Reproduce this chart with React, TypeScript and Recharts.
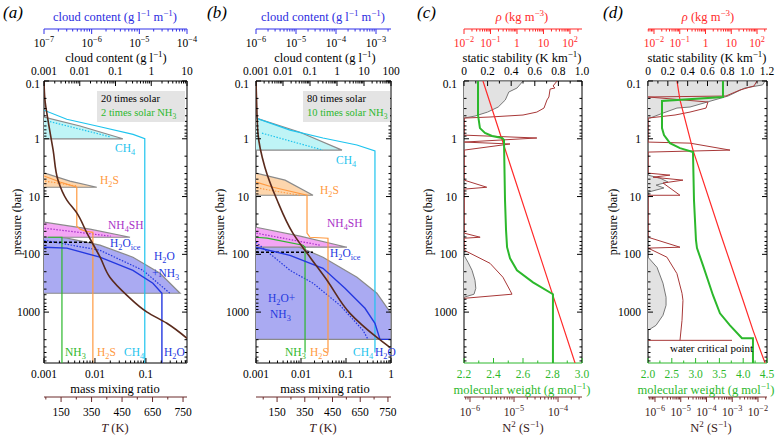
import React from 'react';
import { ScatterChart, Scatter, XAxis, YAxis } from 'recharts';

type Pt = [number, number]; // [axis value, pressure (bar)]

const FONT = '"Liberation Serif", "DejaVu Serif", serif';
const H = 436;

const CYAN = '#1ec4ee';
const ORANGE = '#ff9a40';
const PURPLE = '#a830c8';
const BLUE = '#2438e0';
const GREEN = '#2cb82c';
const BROWN = '#5a2a1c';
const RED = '#ff2a2a';
const N2C = '#a83838';
const GRAY = '#8a8a8a';

// ---------- shared pressure axis ----------
const pressureDomain: [number, number] = [0.1, 7600];
const pressureMajors = [0.1, 1, 10, 100, 1000];
const pressureLabels = ['0.1', '1', '10', '100', '1000'];

// ---------- panel (a): 20 times solar ----------
const aCloudTicks = [0.001, 0.01, 0.1, 1, 10];
const aCloudLabels = ['0.001', '0.01', '0.1', '1', '10'];
const aColumnTicks = [1e-7, 1e-6, 1e-5, 1e-4];
const aColumnLabels = ['10^{−7}', '10^{−6}', '10^{−5}', '10^{−4}'];
const aMixTicks = [0.001, 0.01, 0.1];
const aMixLabels = ['0.001', '0.01', '0.1'];

const aCh4Cloud: Pt[] = [[0.001, 0.42], [0.0102, 0.6], [0.16, 1.0], [0.001, 1.0]];
const aH2sCloud: Pt[] = [[0.001, 3.9], [0.0053, 5.4], [0.03, 6.9], [0.001, 6.9]];
const aNh4shCloud: Pt[] = [[0.001, 27.8], [0.0194, 36.7], [0.255, 50.6], [0.001, 50.6]];
const aH2oCloud: Pt[] = [[0.001, 46.7], [0.0044, 52.6], [0.0368, 69.5], [0.308, 112], [1.76, 213], [6.4, 472], [0.001, 472]];
const aIceLine: Pt[] = [[0.001, 61.8], [0.022, 61.8]];
const aCh4Dot: Pt[] = [[1.16e-7, 0.49], [2.5e-6, 0.93]];
const aH2sDot: Pt[] = [[1.05e-7, 5.4], [5.0e-7, 6.6]];
const aNh4shDot: Pt[] = [[1.02e-7, 35.3], [2.5e-6, 48.5]];
const aH2oDot: Pt[] = [[0.001, 57], [0.0125, 85], [0.0873, 189], [0.296, 472]];
const aCh4Gas: Pt[] = [[0.001, 0.32], [0.0028, 0.46], [0.0126, 0.62], [0.056, 0.84], [0.095, 1.0], [0.095, 7600]];
const aH2sGas: Pt[] = [[0.001, 4.4], [0.00206, 5.6], [0.0044, 6.9], [0.0044, 32.6], [0.0051, 36.7], [0.0067, 40], [0.0091, 41.6], [0.0091, 7600]];
const aNh3Gas: Pt[] = [[0.0012, 50.6], [0.00225, 50.6], [0.00225, 7600]];
const aH2oGas: Pt[] = [[0.001, 75.3], [0.00282, 78], [0.0125, 112], [0.0556, 189], [0.137, 316], [0.206, 472], [0.206, 7600]];
const aTemp: Pt[] = [[94, 0.1], [97, 0.21], [107, 0.47], [124, 1.57], [140, 5.2], [169, 11.5], [202, 19.4], [235, 43], [278, 112], [310, 249], [366, 512], [432, 1000], [497, 1560], [563, 2840]];

// temperature axis (a, b): evenly spaced ticks carrying the labels printed in the figure
const tempTicks = [150, 250, 350, 450, 550];
const tempLabels = ['150', '350', '450', '650', '750'];
const tempMinors = [100, 200, 300, 400, 500];

// ---------- panel (b): 80 times solar ----------
const bCloudTicks = [0.001, 0.01, 0.1, 1, 10, 100];
const bCloudLabels = ['0.001', '0.01', '0.1', '1', '10', '100'];
const bColumnTicks = [1e-6, 1e-5, 1e-4, 1e-3];
const bColumnLabels = ['10^{−6}', '10^{−5}', '10^{−4}', '10^{−3}'];
const bMixTicks = [0.001, 0.01, 0.1, 1];
const bMixLabels = ['0.001', '0.01', '0.1', '1'];

const bCh4Cloud: Pt[] = [[0.001, 0.44], [0.0427, 0.77], [1.53, 1.57], [0.001, 1.57]];
const bH2sCloud: Pt[] = [[0.001, 3.93], [0.0119, 5.2], [0.129, 9.5], [0.001, 9.5]];
const bNh4shCloud: Pt[] = [[0.001, 34], [0.0427, 48.5], [2.34, 75.3], [0.001, 75.3]];
const bH2oCloud: Pt[] = [[0.001, 43], [0.0182, 64.3], [0.303, 112], [5.5, 249], [30, 472], [100, 1050], [100, 2960], [0.001, 2960]];
const bIceLine: Pt[] = [[0.001, 92], [0.129, 92]];
const bCh4Dot: Pt[] = [[1.41e-6, 0.8], [4.7e-5, 1.57]];
const bH2sDot: Pt[] = [[1.06e-6, 7.1], [1.26e-5, 9.5]];
const bNh4shDot: Pt[] = [[1.02e-6, 43], [4e-5, 69.5]];
const bH2oDot: Pt[] = [[0.001, 61.8], [0.0057, 189], [0.0185, 316], [0.0736, 762], [0.239, 2070], [0.308, 2960]];
const bCh4Gas: Pt[] = [[0.001, 0.44], [0.0057, 0.71], [0.0308, 0.97], [0.175, 1.28], [0.44, 1.63], [0.44, 4980]];
const bH2sGas: Pt[] = [[0.001, 5.6], [0.0024, 6.9], [0.0136, 9.5], [0.0136, 43], [0.0158, 50.6], [0.0398, 52.6], [0.0398, 4980]];
const bNh3Gas: Pt[] = [[0.001, 50.6], [0.00176, 52.6], [0.0111, 69.5], [0.0123, 75.3], [0.0123, 4980]];
const bH2oGas: Pt[] = [[0.001, 75.3], [0.0057, 104], [0.0308, 174], [0.095, 387], [0.264, 859], [0.44, 1560], [0.57, 2960], [1, 2960]];
const bTemp: Pt[] = [[74, 0.1], [76, 0.21], [81, 0.8], [106, 3.1], [150, 11.5], [207, 43], [269, 112], [330, 281], [413, 1050], [510, 2740], [557, 4070]];

// ---------- panel (c) ----------
const cStabTicks = [0, 0.2, 0.4, 0.6, 0.8, 1.0];
const cStabLabels = ['0', '0.2', '0.4', '0.6', '0.8', '1.0'];
const cStabMinors = [0.1, 0.3, 0.5, 0.7, 0.9];
const rhoTicks = [0.01, 0.1, 1, 10, 100];
const rhoLabels = ['10^{−2}', '10^{−1}', '1', '10', '10^{2}'];
const cWeightTicks = [2.2, 2.4, 2.6, 2.8, 3.0];
const cWeightLabels = ['2.2', '2.4', '2.6', '2.8', '3.0'];
const cWeightMinors = [2.3, 2.5, 2.7, 2.9];
const cN2Ticks = [1e-6, 1e-5, 1e-4];
const cN2Labels = ['10^{−6}', '10^{−5}', '10^{−4}'];

const cStabTop: Pt[] = [[0, 0.1], [0.5, 0.1], [0.45, 0.132], [0.38, 0.155], [0.35, 0.213], [0.29, 0.282], [0.2, 0.345], [0.093, 0.404], [0, 0.438]];
const cStabDeep: Pt[] = [[0, 104], [0.034, 137], [0.068, 189], [0.093, 281], [0.1, 387], [0.085, 490], [0, 553]];
const cN2: Pt[] = [
  [9.5e-5, 0.1], [7.7e-5, 0.122], [8.5e-5, 0.132], [6.6e-5, 0.138], [6.2e-5, 0.189], [5.6e-5, 0.213], [4.8e-5, 0.294],
  [3.3e-5, 0.345], [1.6e-5, 0.388], [2.85e-6, 0.42], [7.4e-7, 0.438], [7.4e-7, 0.865], [3.3e-5, 0.97], [7.4e-7, 1.14],
  [8.1e-6, 1.23], [7.4e-7, 1.57], [7.4e-7, 5.2], [2.4e-6, 6.9], [7.4e-7, 7.44], [7.4e-7, 43], [1.7e-6, 50.6], [7.4e-7, 52.6],
  [7.4e-7, 85], [2.85e-6, 143], [5.6e-6, 249], [8.1e-6, 419], [9.0e-6, 490], [7.4e-7, 577],
];
const cWeight: Pt[] = [
  [2.295, 0.1], [2.295, 0.388], [2.308, 0.654], [2.342, 0.795], [2.39, 0.896], [2.458, 0.97], [2.471, 1.05], [2.478, 11.5],
  [2.485, 38.2], [2.492, 75.3], [2.512, 117], [2.559, 189], [2.668, 305], [2.803, 490], [2.803, 7600],
];
const cDensity: Pt[] = [[0.052, 0.1], [0.265, 1], [7.06, 100], [36.5, 1000], [155, 7600]];

// ---------- panel (d) ----------
const dStabTicks = [0, 0.2, 0.4, 0.6, 0.8, 1.0, 1.2];
const dStabLabels = ['0', '0.2', '0.4', '0.6', '0.8', '1.0', '1.2'];
const dStabMinors = [0.1, 0.3, 0.5, 0.7, 0.9, 1.1];
const dWeightTicks = [2.0, 2.5, 3.0, 3.5, 4.0, 4.5];
const dWeightLabels = ['2.0', '2.5', '3.0', '3.5', '4.0', '4.5'];
const dWeightMinors = [2.25, 2.75, 3.25, 3.75, 4.25];
const dN2Ticks = [1e-6, 1e-5, 1e-4, 1e-3, 1e-2];
const dN2Labels = ['10^{−6}', '10^{−5}', '10^{−4}', '10^{−3}', '10^{−2}'];

const dStabTop: Pt[] = [[0, 0.1], [1.18, 0.1], [1.155, 0.117], [0.978, 0.132], [0.807, 0.182], [0.565, 0.24], [0.424, 0.282], [0.292, 0.294], [0.151, 0.359], [0.02, 0.438], [0, 0.438]];
const dStabMid: Pt[] = [[0, 4.26], [0.121, 4.8], [0.202, 5.6], [0.081, 6.34], [0.161, 7.1], [0, 8.4]];
const dStabDeep: Pt[] = [[0, 112], [0.091, 168], [0.151, 316], [0.182, 553], [0.182, 762], [0.151, 1134], [0.081, 1694], [0, 2070]];
const dN2: Pt[] = [
  [9.1e-3, 0.1], [7e-3, 0.122], [2e-3, 0.143], [5.7e-4, 0.182], [5.4e-7, 0.189], [1.14e-4, 0.231], [9.6e-5, 0.294],
  [2.29e-5, 0.345], [6e-6, 0.388], [5.4e-7, 0.438], [5.4e-7, 1.14], [2.29e-5, 1.19], [8.2e-4, 1.57], [5.4e-7, 1.7],
  [5.4e-7, 3.93], [3.8e-6, 4.26], [8.4e-7, 4.62], [1.22e-5, 5.2], [2.05e-6, 5.83], [9.35e-6, 9.5], [5.4e-7, 9.5],
  [5.4e-7, 50.6], [9.35e-6, 75.3], [5.4e-7, 78], [2.9e-6, 112], [7.1e-6, 215], [1.12e-5, 472], [1.22e-5, 625],
  [1.12e-5, 1390], [9.35e-6, 3080],
];
const dCritical: Pt[] = [[5.4e-7, 3080], [9.8e-4, 3080]];
const dWeight: Pt[] = [
  [3.575, 0.1], [3.575, 0.189], [2.294, 0.222], [2.294, 0.654], [2.336, 0.865], [2.462, 1.19], [2.672, 1.45], [2.945, 1.7],
  [2.966, 11.5], [3.008, 57], [3.029, 78], [3.155, 155], [3.26, 281], [3.365, 510], [3.512, 1050], [3.722, 1694],
  [3.974, 2830], [4.205, 2830], [4.205, 7600],
];
const dDensity: Pt[] = [[0.078, 0.1], [0.102, 0.213], [0.327, 1.57], [4.0, 46.7], [28.6, 625], [70, 2070], [205, 7600]];

// ---------- helpers ----------
function logMinors(lo: number, hi: number): number[] {
  const out: number[] = [];
  for (let d = Math.floor(Math.log10(lo)); d <= Math.ceil(Math.log10(hi)); d++) {
    for (let k = 2; k <= 9; k++) {
      const v = Number((k * Math.pow(10, d)).toPrecision(6));
      if (v > lo * 1.0001 && v < hi * 0.9999) out.push(v);
    }
  }
  return out;
}

// tiny markup: ^{sup} _{sub} *{italic}
function rich(s: string, size: number) {
  const parts = s.split(/(\^\{[^}]*\}|_\{[^}]*\}|\*\{[^}]*\})/).filter(Boolean);
  let cur = 0;
  return parts.map((part, i) => {
    let target = 0;
    let text = part;
    let fs = size;
    let italic = false;
    if (part.startsWith('^{')) {
      target = -0.4 * size;
      text = part.slice(2, -1);
      fs = size * 0.72;
    } else if (part.startsWith('_{')) {
      target = 0.28 * size;
      text = part.slice(2, -1);
      fs = size * 0.72;
    } else if (part.startsWith('*{')) {
      text = part.slice(2, -1);
      italic = true;
    }
    const dy = target - cur;
    cur = target;
    return (
      <tspan key={i} dy={dy} fontSize={fs} fontStyle={italic ? 'italic' : undefined}>
        {text}
      </tspan>
    );
  });
}

const isMajor = (list: number[], v: number) =>
  list.findIndex((m) => Math.abs(m - v) <= Math.abs(m) * 1e-6 + 1e-12);

type AxisSpec = {
  id: string;
  side: 'top' | 'bottom';
  scale: 'log' | 'linear';
  domain: [number, number];
  majors: number[];
  labels: string[];
  minors: number[];
  line: string;
  text: string;
  dir: number;
  lab: number;
  height: number;
};

// ids carry a "1"/"2" prefix so the axis nearest the plot is always stacked first
function axis(
  kind: 'topNear' | 'topFar' | 'botNear' | 'botFar',
  id: string,
  scale: 'log' | 'linear',
  domain: [number, number],
  majors: number[],
  labels: string[],
  minors: number[],
  line = '#000',
  text = '#000',
): AxisSpec {
  const geo = {
    topNear: { side: 'top', dir: 1, lab: -6, height: 52 },
    topFar: { side: 'top', dir: 1, lab: 18, height: 29 },
    botNear: { side: 'bottom', dir: -1, lab: 15, height: 34 },
    botFar: { side: 'bottom', dir: 1, lab: 19, height: 39 },
  }[kind] as { side: 'top' | 'bottom'; dir: number; lab: number; height: number };
  return { id, scale, domain, majors, labels, minors, line, text, ...geo };
}

function tickFor(a: AxisSpec) {
  return (props: any) => {
    const x = Number(props.x);
    const y = Number(props.y);
    const i = isMajor(a.majors, Number(props.payload?.value));
    const len = i >= 0 ? 5 : 2.5;
    return (
      <g>
        <line x1={x} y1={y} x2={x} y2={y + a.dir * len} stroke={a.line} strokeWidth={1} />
        {i >= 0 ? (
          <text x={x} y={y + a.lab} textAnchor="middle" fontSize={11.5} fill={a.text} fontFamily={FONT}>
            {rich(a.labels[i], 11.5)}
          </text>
        ) : null}
      </g>
    );
  };
}

function pressureTick(side: 'left' | 'right', gap: number) {
  return (props: any) => {
    const x = Number(props.x);
    const y = Number(props.y);
    const i = isMajor(pressureMajors, Number(props.payload?.value));
    const len = i >= 0 ? 5 : 2.5;
    const sgn = side === 'left' ? 1 : -1;
    // the top label sits a little below its tick, as in the figure
    const nudge = i === 0 ? 3 : 0;
    return (
      <g>
        <line x1={x} y1={y} x2={x + sgn * len} y2={y} stroke="#000" strokeWidth={1} />
        {side === 'left' && i >= 0 ? (
          <text x={x - gap} y={y + 4 + nudge} textAnchor="end" fontSize={11.5} fill="#000" fontFamily={FONT}>
            {pressureLabels[i]}
          </text>
        ) : null}
      </g>
    );
  };
}

type Series = {
  data: Pt[];
  axis: string;
  stroke: string;
  width?: number;
  dash?: string;
  fill?: string;
  curve?: 'linear' | 'monotoneY';
};

type PanelSpec = {
  key: string;
  left: number;
  width: number;
  yW: number;
  rPad: number;
  gap: number;
  axes: AxisSpec[];
  series: Series[];
};

const pressureTicks = [...pressureMajors, ...logMinors(0.1, 7600)].sort((p, q) => p - q);
const noMark = () => <g />;

const tempAxis = (domain: [number, number]) =>
  axis('botFar', '2T', 'linear', domain, tempTicks, tempLabels, tempMinors, '#6a2a2a', '#000');

const panels: PanelSpec[] = [
  {
    key: 'a', left: 0, width: 200, yW: 44, rPad: 12, gap: 4,
    axes: [
      axis('topNear', '1cc', 'log', [0.001, 10], aCloudTicks, aCloudLabels, logMinors(0.001, 10)),
      axis('topFar', '2col', 'log', [1e-7, 1e-4], aColumnTicks, aColumnLabels, logMinors(1e-7, 1e-4), '#3030e8'),
      axis('botNear', '1mix', 'log', [0.001, 0.64], aMixTicks, aMixLabels, logMinors(0.001, 0.64)),
      tempAxis([94, 563]),
    ],
    series: [
      { data: aH2oCloud, axis: '1cc', stroke: GRAY, fill: '#aaaaf2' },
      { data: aNh4shCloud, axis: '1cc', stroke: GRAY, fill: '#f4a6f4' },
      { data: aH2sCloud, axis: '1cc', stroke: GRAY, fill: '#fdd6ad' },
      { data: aCh4Cloud, axis: '1cc', stroke: GRAY, fill: '#bff4f6' },
      { data: aCh4Dot, axis: '2col', stroke: CYAN, dash: '1.5 1.5' },
      { data: aH2sDot, axis: '2col', stroke: ORANGE, dash: '1.5 1.5' },
      { data: aNh4shDot, axis: '2col', stroke: PURPLE, dash: '1.5 1.5' },
      { data: aH2oDot, axis: '1mix', stroke: BLUE, dash: '1.5 1.5' },
      { data: aIceLine, axis: '1cc', stroke: '#000', dash: '3 2', width: 1.5 },
      { data: aCh4Gas, axis: '1mix', stroke: CYAN },
      { data: aH2sGas, axis: '1mix', stroke: ORANGE },
      { data: aNh3Gas, axis: '1mix', stroke: GREEN },
      { data: aH2oGas, axis: '1mix', stroke: BLUE, width: 1.4 },
      { data: aTemp, axis: '2T', stroke: BROWN, width: 1.6, curve: 'monotoneY' },
    ],
  },
  {
    key: 'b', left: 200, width: 200, yW: 56, rPad: 8, gap: 7,
    axes: [
      axis('topNear', '1cc', 'log', [0.001, 100], bCloudTicks, bCloudLabels, logMinors(0.001, 100)),
      axis('topFar', '2col', 'log', [1e-6, 2.37e-3], bColumnTicks, bColumnLabels, logMinors(1e-6, 2.37e-3), '#3030e8'),
      axis('botNear', '1mix', 'log', [0.001, 1], bMixTicks, bMixLabels, logMinors(0.001, 1)),
      tempAxis([74, 561]),
    ],
    series: [
      { data: bH2oCloud, axis: '1cc', stroke: GRAY, fill: '#aaaaf2' },
      { data: bNh4shCloud, axis: '1cc', stroke: GRAY, fill: '#f4a6f4' },
      { data: bH2sCloud, axis: '1cc', stroke: GRAY, fill: '#fdd6ad' },
      { data: bCh4Cloud, axis: '1cc', stroke: GRAY, fill: '#bff4f6' },
      { data: bCh4Dot, axis: '2col', stroke: CYAN, dash: '1.5 1.5' },
      { data: bH2sDot, axis: '2col', stroke: ORANGE, dash: '1.5 1.5' },
      { data: bNh4shDot, axis: '2col', stroke: PURPLE, dash: '1.5 1.5' },
      { data: bH2oDot, axis: '1mix', stroke: BLUE, dash: '1.5 1.5' },
      { data: bIceLine, axis: '1cc', stroke: '#000', dash: '3 2', width: 1.5 },
      { data: bCh4Gas, axis: '1mix', stroke: CYAN },
      { data: bH2sGas, axis: '1mix', stroke: ORANGE },
      { data: bNh3Gas, axis: '1mix', stroke: GREEN },
      { data: bH2oGas, axis: '1mix', stroke: BLUE, width: 1.4 },
      { data: bTemp, axis: '2T', stroke: BROWN, width: 1.6, curve: 'monotoneY' },
    ],
  },
  {
    key: 'c', left: 400, width: 190, yW: 64, rPad: 7, gap: 7,
    axes: [
      axis('topNear', '1stab', 'linear', [0, 1], cStabTicks, cStabLabels, cStabMinors),
      axis('topFar', '2rho', 'log', [0.01, 284], rhoTicks, rhoLabels, logMinors(0.01, 284), RED, RED),
      axis('botNear', '1mw', 'linear', [2.2, 3.0], cWeightTicks, cWeightLabels, cWeightMinors, GREEN, GREEN),
      axis('botFar', '2n2', 'log', [7.31e-7, 3.5e-4], cN2Ticks, cN2Labels, logMinors(7.31e-7, 3.5e-4), '#7a3030', '#3a1a1a'),
    ],
    series: [
      { data: cStabTop, axis: '1stab', stroke: '#777', fill: '#e2e2e2', width: 1 },
      { data: cStabDeep, axis: '1stab', stroke: '#777', fill: '#e2e2e2', width: 1 },
      { data: cN2, axis: '2n2', stroke: N2C, width: 1 },
      { data: cDensity, axis: '2rho', stroke: RED, width: 1.2 },
      { data: cWeight, axis: '1mw', stroke: GREEN, width: 2 },
    ],
  },
  {
    key: 'd', left: 590, width: 190, yW: 58, rPad: 12, gap: 7,
    axes: [
      axis('topNear', '1stab', 'linear', [0, 1.2], dStabTicks, dStabLabels, dStabMinors),
      axis('topFar', '2rho', 'log', [0.00585, 244], rhoTicks, rhoLabels, logMinors(0.00585, 244), RED, RED),
      axis('botNear', '1mw', 'linear', [2.0, 4.5], dWeightTicks, dWeightLabels, dWeightMinors, GREEN, GREEN),
      axis('botFar', '2n2', 'log', [5.35e-7, 0.0224], dN2Ticks, dN2Labels, logMinors(5.35e-7, 0.0224), '#7a3030', '#3a1a1a'),
    ],
    series: [
      { data: dStabTop, axis: '1stab', stroke: '#777', fill: '#e2e2e2', width: 1 },
      { data: dStabMid, axis: '1stab', stroke: '#777', fill: '#e2e2e2', width: 1 },
      { data: dStabDeep, axis: '1stab', stroke: '#777', fill: '#e2e2e2', width: 1 },
      { data: dN2, axis: '2n2', stroke: N2C, width: 1 },
      { data: dCritical, axis: '2n2', stroke: N2C, width: 1 },
      { data: dDensity, axis: '2rho', stroke: RED, width: 1.2 },
      { data: dWeight, axis: '1mw', stroke: GREEN, width: 2 },
    ],
  },
];

function Panel({ spec }: { spec: PanelSpec }) {
  return (
    <div style={{ position: 'absolute', left: spec.left, top: 0, width: spec.width, height: H }}>
      <ScatterChart width={spec.width} height={H} margin={{ top: 0, right: spec.rPad, bottom: 0, left: 0 }}>
        {spec.axes.map((a) => (
          <XAxis
            key={a.id}
            xAxisId={a.id}
            type="number"
            dataKey="x"
            scale={a.scale}
            domain={a.domain}
            allowDataOverflow
            orientation={a.side}
            height={a.height}
            ticks={[...a.majors, ...a.minors].sort((p, q) => p - q)}
            interval={0}
            tickLine={false}
            tickSize={0}
            tickMargin={0}
            axisLine={{ stroke: a.line, strokeWidth: 1 }}
            tick={tickFor(a)}
          />
        ))}
        <YAxis
          yAxisId="p"
          type="number"
          dataKey="p"
          scale="log"
          domain={pressureDomain}
          allowDataOverflow
          reversed
          ticks={pressureTicks}
          interval={0}
          width={spec.yW}
          tickLine={false}
          tickSize={0}
          tickMargin={0}
          axisLine={{ stroke: '#000', strokeWidth: 1 }}
          tick={pressureTick('left', spec.gap)}
        />
        <YAxis
          yAxisId="pr"
          orientation="right"
          type="number"
          dataKey="p"
          scale="log"
          domain={pressureDomain}
          allowDataOverflow
          reversed
          ticks={pressureTicks}
          interval={0}
          width={1}
          tickLine={false}
          tickSize={0}
          tickMargin={0}
          axisLine={{ stroke: '#000', strokeWidth: 1 }}
          tick={pressureTick('right', 0)}
        />
        {spec.series.map((s, i) => (
          <Scatter
            key={i}
            data={s.data.map(([x, p]) => ({ x, p }))}
            xAxisId={s.axis}
            yAxisId="p"
            isAnimationActive={false}
            shape={noMark}
            fill={s.stroke}
            line={{ stroke: s.stroke, strokeWidth: s.width ?? 1.2, strokeDasharray: s.dash, fill: s.fill ?? 'none' }}
            lineType="joint"
            lineJointType={s.curve ?? 'linear'}
          />
        ))}
      </ScatterChart>
    </div>
  );
}

type Note = { x: number; y: number; s: string; c: string; size?: number; anchor?: 'start' | 'middle' | 'end'; rot?: boolean };

const notes: Note[] = [
  // panel letters
  { x: 3, y: 18, s: '*{(a)}', c: '#000', size: 17 },
  { x: 207, y: 18, s: '*{(b)}', c: '#000', size: 17 },
  { x: 417, y: 18, s: '*{(c)}', c: '#000', size: 17 },
  { x: 603, y: 18, s: '*{(d)}', c: '#000', size: 17 },
  // axis titles (a)
  { x: 115, y: 21, s: 'cloud content (g l^{−1} m^{−1})', c: '#2c2ce0', anchor: 'middle', size: 12.5 },
  { x: 116, y: 62, s: 'cloud content (g l^{−1})', c: '#000', anchor: 'middle', size: 12.5 },
  { x: 115, y: 393, s: 'mass mixing ratio', c: '#000', anchor: 'middle', size: 12.5 },
  { x: 115, y: 432, s: '*{T} (K)', c: '#3a1a1a', anchor: 'middle', size: 12.5 },
  { x: 17, y: 222, s: 'pressure (bar)', c: '#000', anchor: 'middle', size: 12, rot: true },
  // axis titles (b)
  { x: 323, y: 21, s: 'cloud content (g l^{−1} m^{−1})', c: '#2c2ce0', anchor: 'middle', size: 12.5 },
  { x: 325, y: 62, s: 'cloud content (g l^{−1})', c: '#000', anchor: 'middle', size: 12.5 },
  { x: 325, y: 393, s: 'mass mixing ratio', c: '#000', anchor: 'middle', size: 12.5 },
  { x: 323, y: 432, s: '*{T} (K)', c: '#3a1a1a', anchor: 'middle', size: 12.5 },
  { x: 220, y: 222, s: 'pressure (bar)', c: '#000', anchor: 'middle', size: 12, rot: true },
  // axis titles (c)
  { x: 522, y: 21, s: '*{ρ} (kg m^{−3})', c: RED, anchor: 'middle', size: 12.5 },
  { x: 522, y: 62, s: 'static stability (K km^{−1})', c: '#000', anchor: 'middle', size: 12.5 },
  { x: 522, y: 394, s: 'molecular weight (g mol^{−1})', c: GREEN, anchor: 'middle', size: 12.5 },
  { x: 523, y: 432, s: 'N^{2} (S^{−1})', c: '#3a1a1a', anchor: 'middle', size: 12.5 },
  { x: 428, y: 222, s: 'pressure (bar)', c: '#000', anchor: 'middle', size: 12, rot: true },
  // axis titles (d)
  { x: 708, y: 21, s: '*{ρ} (kg m^{−3})', c: RED, anchor: 'middle', size: 12.5 },
  { x: 707, y: 62, s: 'static stability (K km^{−1})', c: '#000', anchor: 'middle', size: 12.5 },
  { x: 706, y: 394, s: 'molecular weight (g mol^{−1})', c: GREEN, anchor: 'middle', size: 12.5 },
  { x: 711, y: 432, s: 'N^{2} (S^{−1})', c: '#3a1a1a', anchor: 'middle', size: 12.5 },
  { x: 613, y: 222, s: 'pressure (bar)', c: '#000', anchor: 'middle', size: 12, rot: true },
  // annotations (a)
  { x: 101, y: 102, s: '20 times solar', c: '#000', size: 10.5 },
  { x: 101, y: 116, s: '2 times solar NH_{3}', c: GREEN, size: 10.5 },
  { x: 115, y: 152, s: 'CH_{4}', c: CYAN },
  { x: 100, y: 184, s: 'H_{2}S', c: ORANGE },
  { x: 108, y: 229, s: 'NH_{4}SH', c: PURPLE },
  { x: 110, y: 247, s: 'H_{2}O_{ice}', c: BLUE },
  { x: 154, y: 260, s: 'H_{2}O', c: BLUE },
  { x: 152, y: 277, s: '+NH_{3}', c: BLUE },
  { x: 65, y: 356, s: 'NH_{3}', c: GREEN },
  { x: 97, y: 356, s: 'H_{2}S', c: ORANGE },
  { x: 124, y: 356, s: 'CH_{4}', c: CYAN },
  { x: 164, y: 356, s: 'H_{2}O', c: BLUE },
  // annotations (b)
  { x: 307, y: 102, s: '80 times solar', c: '#000', size: 10.5 },
  { x: 307, y: 116, s: '10 times solar NH_{3}', c: GREEN, size: 10.5 },
  { x: 336, y: 164, s: 'CH_{4}', c: CYAN },
  { x: 320, y: 194, s: 'H_{2}S', c: ORANGE },
  { x: 327, y: 227, s: 'NH_{4}SH', c: PURPLE },
  { x: 330, y: 257, s: 'H_{2}O_{ice}', c: BLUE },
  { x: 268, y: 302, s: 'H_{2}O+', c: BLUE },
  { x: 270, y: 318, s: 'NH_{3}', c: BLUE },
  { x: 285, y: 356, s: 'NH_{3}', c: GREEN },
  { x: 310, y: 356, s: 'H_{2}S', c: ORANGE },
  { x: 353, y: 356, s: 'CH_{4}', c: CYAN },
  { x: 375, y: 356, s: 'H_{2}O', c: BLUE },
  // annotations (d)
  { x: 670, y: 352, s: 'water critical point', c: '#000', size: 11 },
];

export default function App() {
  return (
    <div style={{ position: 'absolute', left: 0, top: 0, width: 780, height: H, background: '#fff', overflow: 'hidden' }}>
      {panels.map((p) => (
        <Panel key={p.key} spec={p} />
      ))}
      <svg width={780} height={H} style={{ position: 'absolute', left: 0, top: 0, pointerEvents: 'none' }}>
        <rect x={97} y={91} width={88} height={31} fill="#e4e4e4" />
        <rect x={303} y={91} width={87} height={31} fill="#e4e4e4" />
        {notes.map((n, i) => {
          const size = n.size ?? 11.5;
          return (
            <text
              key={i}
              x={n.x}
              y={n.y}
              fill={n.c}
              fontSize={size}
              fontFamily={FONT}
              textAnchor={n.anchor ?? 'start'}
              dominantBaseline={n.rot ? 'central' : undefined}
              transform={n.rot ? `rotate(-90 ${n.x} ${n.y})` : undefined}
            >
              {rich(n.s, size)}
            </text>
          );
        })}
      </svg>
    </div>
  );
}
